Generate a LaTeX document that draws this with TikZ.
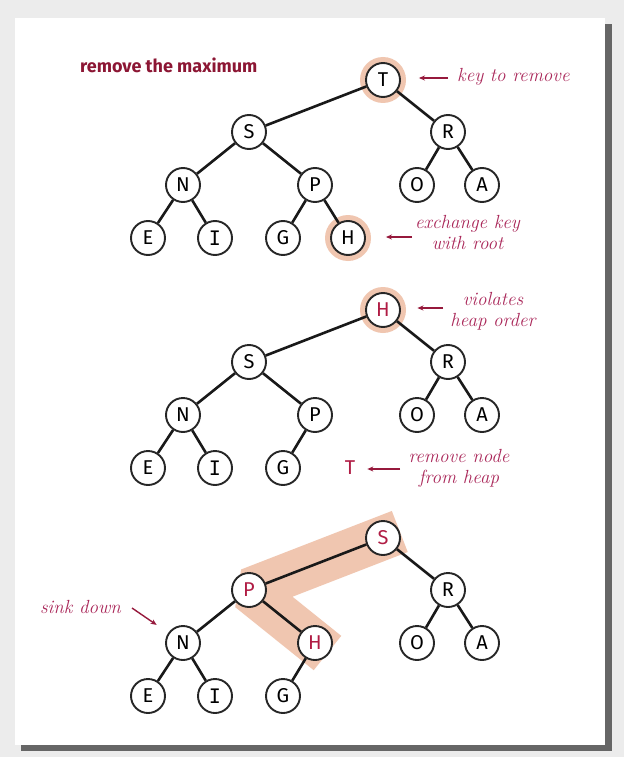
\documentclass[tikz,border=0pt]{standalone}
\usepackage{fontspec}
\usetikzlibrary{calc,arrows.meta}
\newfontfamily\nodefont{Fira Sans}
\newfontfamily\slabfont{DejaVu Sans Mono}
\newfontfamily\titlefont{Fira Sans}
\definecolor{titlered}{RGB}{140,22,52}
\definecolor{labred}{RGB}{170,40,90}
\definecolor{keyred}{RGB}{176,28,68}
\definecolor{arrowred}{RGB}{150,25,60}
\definecolor{peach}{RGB}{240,198,176}
\definecolor{bgray}{RGB}{236,236,236}
\pgfdeclarelayer{bg}
\pgfdeclarelayer{hl}
\pgfsetlayers{bg,hl,main}
\begin{document}
\begin{tikzpicture}[x=1pt,y=-1pt,
  key/.style={circle, draw=black!85, line width=1.9pt, fill=white, minimum size=34pt, inner sep=0pt, font=\nodefont\fontsize{20}{20}\selectfont},
  redkey/.style={key, text=keyred},
  edge/.style={line width=2.6pt, black!90},
  lab/.style={font=\fontsize{19}{21}\selectfont\itshape, text=labred, align=center, inner sep=0pt},
  arr/.style={-{Stealth[length=6pt,width=5pt]}, line width=1.4pt, arrowred},
  halo/.style={fill=peach},
  band/.style={draw=peach, line width=44pt, line join=bevel},
]
\useasboundingbox (0,0) rectangle (624,757);
\begin{pgfonlayer}{bg}
  \fill[bgray] (0,0) rectangle (624,757);
  \fill[black!60] (21,24) rectangle (612,751);
  \fill[white] (15,18) rectangle (605,745);
\end{pgfonlayer}

\node[anchor=west, text=titlered, font=\titlefont\bfseries\fontsize{18}{18}\selectfont, inner sep=0pt] (title) at (80,65) {remove the maximum};

% ---------- tree 1 ----------
\node[key] (t1T) at (383,80) {T};
\node[key] (t1S) at (249,132) {S};
\node[key] (t1R) at (448,132) {R};
\node[key] (t1N) at (183,185) {N};
\node[key] (t1P) at (315,185) {P};
\node[key] (t1O) at (417,185) {O};
\node[key] (t1A) at (482,185) {A};
\node[key] (t1E) at (148,238) {E};
\node[key] (t1I) at (215,238) {\slabfont I};
\node[key] (t1G) at (283,238) {G};
\node[key] (t1H) at (348,238) {H};
\draw[edge] (t1T) -- (t1S); \draw[edge] (t1T) -- (t1R);
\draw[edge] (t1S) -- (t1N); \draw[edge] (t1S) -- (t1P);
\draw[edge] (t1R) -- (t1O); \draw[edge] (t1R) -- (t1A);
\draw[edge] (t1N) -- (t1E); \draw[edge] (t1N) -- (t1I);
\draw[edge] (t1P) -- (t1G); \draw[edge] (t1P) -- (t1H);
\begin{pgfonlayer}{hl}
  \fill[halo] (t1T.center) circle (23);
  \fill[halo] (t1H.center) circle (23);
\end{pgfonlayer}
\node[lab, anchor=west] (k1) at (457,77) {key to remove};
\coordinate (a1) at (448,78);
\draw[arr, shorten >=18pt] (a1) -- (a1 -| t1T.east);
\node[lab] (ex) at (467.5,232.5) {exchange key\\with root};
\coordinate (a2) at (412,237);
\draw[arr, shorten >=20pt] (a2) -- (a2 -| t1H.east);

% ---------- tree 2 ----------
\node[redkey] (t2H) at (383,310) {H};
\node[key] (t2S) at (249,362) {S};
\node[key] (t2R) at (448,362) {R};
\node[key] (t2N) at (183,415) {N};
\node[key] (t2P) at (315,415) {P};
\node[key] (t2O) at (417,415) {O};
\node[key] (t2A) at (482,415) {A};
\node[key] (t2E) at (148,468) {E};
\node[key] (t2I) at (215,468) {\slabfont I};
\node[key] (t2G) at (283,468) {G};
\draw[edge] (t2H) -- (t2S); \draw[edge] (t2H) -- (t2R);
\draw[edge] (t2S) -- (t2N); \draw[edge] (t2S) -- (t2P);
\draw[edge] (t2R) -- (t2O); \draw[edge] (t2R) -- (t2A);
\draw[edge] (t2N) -- (t2E); \draw[edge] (t2N) -- (t2I);
\draw[edge] (t2P) -- (t2G);
\begin{pgfonlayer}{hl}
  \fill[halo] (t2H.center) circle (23);
\end{pgfonlayer}
\node[text=keyred, font=\nodefont\fontsize{20}{20}\selectfont, inner sep=0pt] (tx) at (350,468) {T};
\node[lab] (vh) at (493,311.5) {violates\\heap order};
\coordinate (a3) at (443,308);
\draw[arr, shorten >=16.5pt] (a3) -- (a3 -| t2H.east);
\node[lab] (rn) at (459,468.5) {remove node\\from heap};
\coordinate (a4) at (400,469);
\draw[arr, shorten >=12pt] (a4) -- (a4 -| tx.east);

% ---------- tree 3 ----------
\node[redkey] (t3S) at (383,538) {S};
\node[redkey] (t3P) at (249,590) {P};
\node[key] (t3R) at (448,590) {R};
\node[key] (t3N) at (183,643) {N};
\node[redkey] (t3H) at (315,643) {H};
\node[key] (t3O) at (417,643) {O};
\node[key] (t3A) at (482,643) {A};
\node[key] (t3E) at (148,696) {E};
\node[key] (t3I) at (215,696) {\slabfont I};
\node[key] (t3G) at (283,696) {G};
\draw[edge] (t3S) -- (t3P); \draw[edge] (t3S) -- (t3R);
\draw[edge] (t3P) -- (t3N); \draw[edge] (t3P) -- (t3H);
\draw[edge] (t3R) -- (t3O); \draw[edge] (t3R) -- (t3A);
\draw[edge] (t3N) -- (t3E); \draw[edge] (t3N) -- (t3I);
\draw[edge] (t3H) -- (t3G);
\begin{pgfonlayer}{hl}
  \draw[band] ($(t3S.center)!-18pt!(t3P.center)$) -- (t3P.center) -- ($(t3H.center)!-16pt!(t3P.center)$);
\end{pgfonlayer}
\node[lab] (sd) at (80.5,607) {sink down};
\coordinate (a5) at (132,608);
\draw[arr, shorten >=14pt] (a5) -- (t3N);
\end{tikzpicture}
\end{document}
